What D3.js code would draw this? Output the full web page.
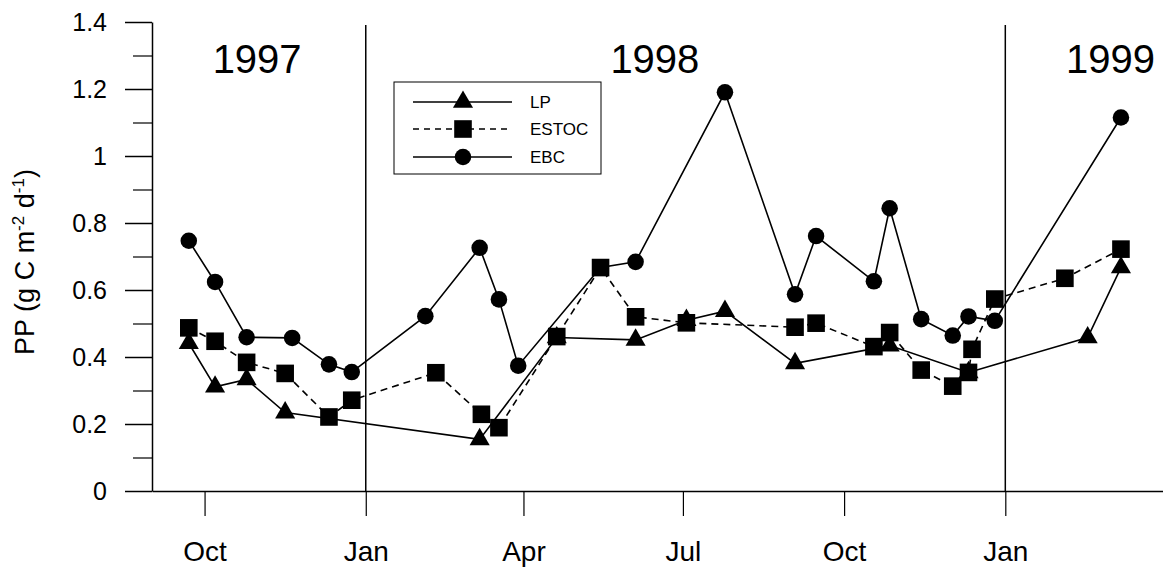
<!DOCTYPE html>
<html>
<head>
<meta charset="utf-8">
<script src="https://cdn.jsdelivr.net/npm/d3@7"></script>
<style>
  html, body { margin: 0; padding: 0; background: #fff; }
  svg { display: block; font-family: "Liberation Sans", Arial, Helvetica, sans-serif; }
</style>
</head>
<body>
<svg id="chart" width="1163" height="567"></svg>
<script>
// ---- Data ----
const lpDates = ["1997-09-22","1997-10-07","1997-10-25","1997-11-16","1998-03-07","1998-04-20","1998-06-04","1998-07-03","1998-07-25","1998-09-03","1998-10-27","1998-12-11","1999-02-17","1999-03-08"];
const lpValues = [0.441,0.311,0.333,0.234,0.154,0.458,0.451,0.510,0.537,0.381,0.434,0.354,0.458,0.667];

const estocDates = ["1997-09-22","1997-10-07","1997-10-25","1997-11-16","1997-12-11","1997-12-24","1998-02-10","1998-03-08","1998-03-18","1998-04-20","1998-05-15","1998-06-04","1998-07-03","1998-09-03","1998-09-15","1998-10-18","1998-10-27","1998-11-14","1998-12-02","1998-12-11","1998-12-13","1998-12-26","1999-02-04","1999-03-08"];
const estocValues = [0.487,0.447,0.384,0.351,0.221,0.271,0.353,0.229,0.189,0.461,0.667,0.520,0.502,0.489,0.501,0.431,0.473,0.361,0.313,0.354,0.423,0.573,0.635,0.722];

const ebcDates = ["1997-09-22","1997-10-07","1997-10-25","1997-11-20","1997-12-11","1997-12-24","1998-02-04","1998-03-07","1998-03-18","1998-03-29","1998-05-15","1998-06-04","1998-07-25","1998-09-03","1998-09-15","1998-10-18","1998-10-27","1998-11-14","1998-12-02","1998-12-11","1998-12-26","1999-03-08"];
const ebcValues = [0.747,0.624,0.459,0.457,0.378,0.355,0.522,0.726,0.572,0.374,0.667,0.684,1.190,0.587,0.761,0.626,0.844,0.513,0.464,0.521,0.508,1.115];

const xTickDates = ["1997-10-01","1998-01-01","1998-04-01","1998-07-01","1998-10-01","1999-01-01"];
const yTicks = [0,0.2,0.4,0.6,0.8,1.0,1.2,1.4];
const yMinorTicks = [0.1,0.3,0.5,0.7,0.9,1.1,1.3];
const yearDividers = ["1998-01-01","1999-01-01"];
const yearLabels = ["1997","1998","1999"];
const yearLabelDates = ["1997-10-31","1998-06-15","1999-03-02"];
const seriesNames = ["LP","ESTOC","EBC"];

// ---- Setup ----
const parse = d3.timeParse("%Y-%m-%d");
const svg = d3.select("#chart");
const font = '"Liberation Sans", Arial, Helvetica, sans-serif';

const x = d3.scaleTime()
  .domain([parse("1997-09-01"), parse("1999-04-01")])
  .range([152, 1163]);
const y = d3.scaleLinear().domain([0, 1.4]).range([491, 22]);

const mk = (dates, vals) => dates.map((d, i) => ({ date: parse(d), value: vals[i] }));
const lp = mk(lpDates, lpValues);
const estoc = mk(estocDates, estocValues);
const ebc = mk(ebcDates, ebcValues);

// ---- Year divider lines ----
svg.append("g").selectAll("line").data(yearDividers).join("line")
  .attr("x1", d => x(parse(d))).attr("x2", d => x(parse(d)))
  .attr("y1", 25).attr("y2", y(0))
  .attr("stroke", "#000").attr("stroke-width", 1.5);

// ---- Year labels ----
svg.append("g").selectAll("text").data(yearLabels).join("text")
  .attr("x", (d, i) => x(parse(yearLabelDates[i])))
  .attr("y", 73)
  .attr("text-anchor", "middle")
  .attr("font-size", 40)
  .attr("fill", "#000")
  .text(d => d);

// ---- Axes ----
const xAxis = svg.append("g")
  .attr("transform", `translate(0,${y(0)})`)
  .call(d3.axisBottom(x)
    .tickValues(xTickDates.map(parse))
    .tickFormat(d3.timeFormat("%b"))
    .tickSize(25).tickSizeOuter(0).tickPadding(25));
xAxis.select(".domain").attr("stroke-width", 1.5);
xAxis.selectAll(".tick line").attr("stroke-width", 1.2);
xAxis.selectAll(".tick text").attr("font-size", 28).attr("font-family", font).attr("fill", "#000");

const yAxis = svg.append("g")
  .attr("transform", `translate(152,0)`)
  .call(d3.axisLeft(y)
    .tickValues(yTicks)
    .tickFormat(d => d3.format("")(+d.toFixed(1)))
    .tickSize(27).tickSizeOuter(0).tickPadding(18));
yAxis.select(".domain").attr("stroke-width", 1.5);
yAxis.selectAll(".tick line").attr("stroke-width", 1.5);
yAxis.selectAll(".tick text").attr("font-size", 25).attr("font-family", font).attr("fill", "#000");

const yMinor = svg.append("g")
  .attr("transform", `translate(152,0)`)
  .call(d3.axisLeft(y).tickValues(yMinorTicks).tickFormat("").tickSize(19).tickSizeOuter(0));
yMinor.select(".domain").remove();
yMinor.selectAll(".tick line").attr("stroke-width", 1.2);

// ---- Y title ----
const yTitle = svg.append("text")
  .attr("transform", "translate(34,262) rotate(-90)")
  .attr("text-anchor", "middle")
  .attr("font-size", 27)
  .attr("fill", "#000");
yTitle.append("tspan").text("PP (g C m");
yTitle.append("tspan").attr("font-size", 17).attr("dy", -10).text("-2");
yTitle.append("tspan").attr("dy", 10).text(" d");
yTitle.append("tspan").attr("font-size", 17).attr("dy", -10).text("-1");
yTitle.append("tspan").attr("dy", 10).text(")");

// ---- Lines ----
const line = d3.line().x(d => x(d.date)).y(d => y(d.value));
const lineStyles = [
  { data: lp, dash: null },
  { data: estoc, dash: "7,5" },
  { data: ebc, dash: null }
];
svg.append("g").selectAll("path").data(lineStyles).join("path")
  .attr("d", d => line(d.data))
  .attr("fill", "none")
  .attr("stroke", "#000")
  .attr("stroke-width", 1.6)
  .attr("stroke-dasharray", d => d.dash);

// ---- Markers ----
const triSym = d3.symbol().type(d3.symbolTriangle).size(175);
const sqSym = d3.symbol().type(d3.symbolSquare).size(310);
const circSym = d3.symbol().type(d3.symbolCircle).size(215);

const markers = [
  { data: lp, sym: triSym },
  { data: ebc, sym: circSym },
  { data: estoc, sym: sqSym }
];
markers.forEach(m => {
  svg.append("g").selectAll("path").data(m.data).join("path")
    .attr("d", m.sym())
    .attr("transform", d => `translate(${x(d.date)},${y(d.value)})`)
    .attr("fill", "#000");
});

// ---- Legend ----
const leg = svg.append("g");
leg.append("rect")
  .attr("x", 394).attr("y", 82).attr("width", 207).attr("height", 92)
  .attr("fill", "#fff").attr("stroke", "#000").attr("stroke-width", 1);
const legRows = [
  { name: seriesNames[0], sym: triSym, dash: null, yy: 102 },
  { name: seriesNames[1], sym: sqSym, dash: "6,5", yy: 129 },
  { name: seriesNames[2], sym: circSym, dash: null, yy: 157 }
];
legRows.forEach(r => {
  leg.append("line")
    .attr("x1", 413).attr("x2", 512).attr("y1", r.yy).attr("y2", r.yy)
    .attr("stroke", "#000").attr("stroke-width", 1.4)
    .attr("stroke-dasharray", r.dash);
  leg.append("path").attr("d", r.sym()).attr("transform", `translate(463,${r.yy})`).attr("fill", "#000");
  leg.append("text").attr("x", 530).attr("y", r.yy + 6)
    .attr("font-size", 17).attr("fill", "#000").text(r.name);
});
</script>
</body>
</html>
